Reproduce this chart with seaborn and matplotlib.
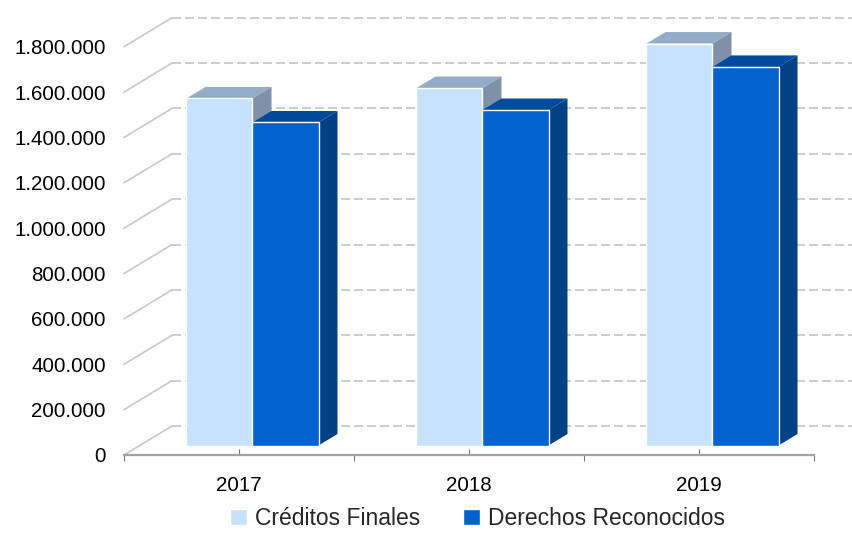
import pandas as pd
import seaborn as sns
from matplotlib import pyplot as plt

years = ["2017", "2018", "2019"]
creditos = [1530000, 1576000, 1772000]
derechos = [1424000, 1479000, 1669000]
names = ["Créditos Finales", "Derechos Reconocidos"]
y_ticks = [0, 200000, 400000, 600000, 800000, 1000000, 1200000, 1400000, 1600000, 1800000]

colors = ["#C6E2FF", "#0062CC"]
top_colors = ["#94ACC8", "#004A9E"]
side_colors = ["#7F90A8", "#004085"]

data = pd.DataFrame({
    "year": years * 2,
    "value": creditos + derechos,
    "serie": [names[0]] * 3 + [names[1]] * 3,
})

sns.set_theme(style="white")
plt.rcParams["font.family"] = ["Liberation Sans", "DejaVu Sans"]

W, H = 853, 538
fig = plt.figure(figsize=(W / 100, H / 100), dpi=100)
ax = fig.add_axes([124 / W, (H - 455) / H, 690 / W, (455 - 46.7) / H])

sns.barplot(data=data, x="year", y="value", hue="serie", palette=colors,
            width=0.574, gap=0, saturation=1, ax=ax, zorder=3)
ax.set_xlim(-0.5, 2.5)
ax.set_ylim(0, 1800000)

# pixel sizes turned into data units
px_x = 3 / 690
px_y = 1800000 / (455 - 46.7)

# back wall: diagonal lines on the floor side and dashed lines behind
wall_dx, wall_dy = 48 * px_x, 29 * px_y
for v in y_ticks:
    ax.plot([-0.5, -0.5 + wall_dx], [v, v + wall_dy], color="#C9C9C9", lw=1.2,
            clip_on=False, zorder=1)
    ax.plot([-0.5 + wall_dx, -0.5 + 729 * px_x], [v + wall_dy, v + wall_dy], color="#C9C9C9",
            lw=1.3, ls=(0, (5, 2.2)), clip_on=False, zorder=1)

# bars sit in the middle of the depth, extruded with top and side faces
shift_x, lift = 13.5 * px_x, 9.5 * px_y
depth_x, depth_y = 19 * px_x, 11.5 * px_y
for i, bars in enumerate(ax.containers):
    z = 3 + i
    for bar in bars:
        bar.set_x(bar.get_x() + shift_x)
        bar.set_y(lift)
        bar.set_clip_on(False)
        bar.set_zorder(z + 0.2)
        x0, x1 = bar.get_x(), bar.get_x() + bar.get_width()
        y1 = lift + bar.get_height()
        ax.fill([x0, x1, x1 + depth_x, x0 + depth_x], [y1, y1, y1 + depth_y, y1 + depth_y],
                color=top_colors[i], lw=0, clip_on=False, zorder=z)
        ax.fill([x1, x1 + depth_x, x1 + depth_x, x1], [lift, lift + depth_y, y1 + depth_y, y1],
                color=side_colors[i], lw=0, clip_on=False, zorder=z)

for s in ["top", "left", "right"]:
    ax.spines[s].set_visible(False)
ax.spines["bottom"].set_color("#A3A3A3")
ax.spines["bottom"].set_linewidth(1.6)

ax.set_xlabel("")
ax.set_ylabel("")
ax.set_yticks(y_ticks)
ax.set_yticklabels([f"{v:,}".replace(",", ".") for v in y_ticks])
ax.tick_params(axis="y", length=0, pad=13, labelsize=14.8, labelcolor="black")
ax.tick_params(axis="x", which="major", direction="in", length=4.5, width=0.8, color="#777777",
               pad=15, labelsize=14.8, labelcolor="black", bottom=True)
ax.set_xticks([-0.5, 0.5, 1.5, 2.5], minor=True)
ax.tick_params(axis="x", which="minor", direction="out", length=4, width=0.8, color="#777777", bottom=True)

handles, labels = ax.get_legend_handles_labels()
ax.legend(handles, labels, ncol=2, frameon=False, loc="lower left",
          bbox_to_anchor=(222 / W, 0), bbox_transform=fig.transFigure,
          fontsize=16.5, handlelength=0.72, handleheight=0.72,
          handletextpad=0.35, columnspacing=1.9, borderaxespad=0, borderpad=0.35)

fig.savefig("out.png", dpi=100)
